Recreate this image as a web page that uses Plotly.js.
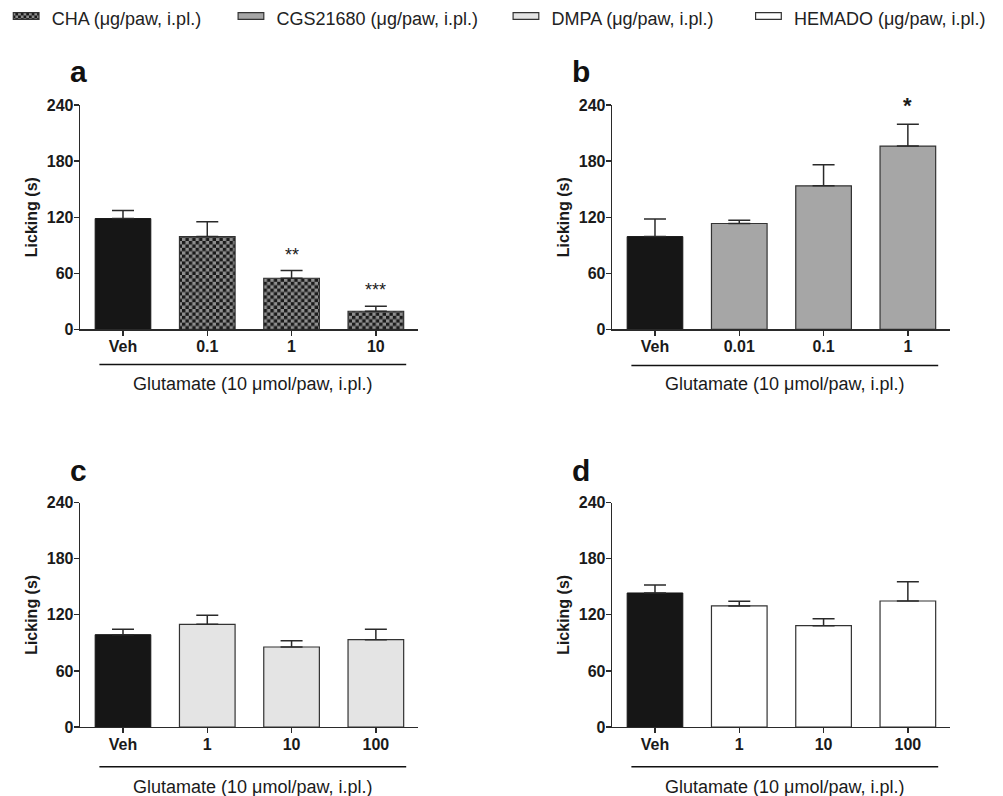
<!DOCTYPE html>
<html>
<head>
<meta charset="utf-8">
<script src="https://cdn.plot.ly/plotly-3.0.1.min.js"></script>
<style>html,body{margin:0;padding:0;background:#fff;}#chart{width:1003px;height:796px;}</style>
</head>
<body>
<div id="chart"></div>
<script>
// ---- data ----
const vehLabel = 'Veh';
const dosesA = ['0.1', '1', '10'];
const dosesB = ['0.01', '0.1', '1'];
const dosesC = ['1', '10', '100'];
const dosesD = ['1', '10', '100'];

const vehA = 118.5, vehErrA = 8.5;
const valsA = [99.2, 54.6, 19.3];
const errsA = [16.0, 8.2, 5.3];
const sigA = ['', '**', '***'];

const vehB = 99.2, vehErrB = 18.7;
const valsB = [113.2, 153.5, 196.0];
const errsB = [3.6, 22.5, 23.3];
const sigB = ['', '', '*'];

const vehC = 98.8, vehErrC = 5.7;
const valsC = [109.9, 85.6, 93.4];
const errsC = [9.6, 6.8, 11.1];

const vehD = 143.4, vehErrD = 8.5;
const valsD = [129.5, 108.4, 134.8];
const errsD = [5.0, 7.5, 20.7];

const yTicks = [0, 60, 120, 180, 240];
const seriesNames = ['CHA (μg/paw, i.pl.)', 'CGS21680 (μg/paw, i.pl.)', 'DMPA (μg/paw, i.pl.)', 'HEMADO (μg/paw, i.pl.)'];
const groupLabel = 'Glutamate (10 μmol/paw, i.pl.)';
const yTitle = 'Licking (s)';
const panelLetters = ['a', 'b', 'c', 'd'];

// ---- style ----
const FONT = 'Liberation Sans, Arial, Helvetica, sans-serif';
const AX = '#2a2a2a';
const W = 1003, H = 796;
const px = v => v / W;
const py = v => 1 - v / H;

const panels = [
  {doses: dosesA, veh: vehA, vehErr: vehErrA, vals: valsA, errs: errsA, sig: sigA, color: '#8f8f8f', pattern: '.', name: seriesNames[0], sigSize: 18, sigWeight: 'normal'},
  {doses: dosesB, veh: vehB, vehErr: vehErrB, vals: valsB, errs: errsB, sig: sigB, color: '#a6a6a6', pattern: '', name: seriesNames[1], sigSize: 22, sigWeight: 'bold'},
  {doses: dosesC, veh: vehC, vehErr: vehErrC, vals: valsC, errs: errsC, sig: null, color: '#e4e4e4', pattern: '', name: seriesNames[2]},
  {doses: dosesD, veh: vehD, vehErr: vehErrD, vals: valsD, errs: errsD, sig: null, color: '#ffffff', pattern: '', name: seriesNames[3]}
];

// pixel geometry of subplots
const xDomLeft = [px(80), px(418)];
const xDomRight = [px(612), px(950)];
const yDomTop = [py(329.3), py(105)];
const yDomBot = [py(727), py(502.7)];
const doms = [
  {x: xDomLeft, y: yDomTop}, {x: xDomRight, y: yDomTop},
  {x: xDomLeft, y: yDomBot}, {x: xDomRight, y: yDomBot}
];
const legendX = [px(11.7), px(236.5), px(511.5), px(754)];
const letterPos = [[78.5, 72], [581, 72], [78, 470.7], [580.5, 470.7]];
const groupLineY = [364.5, 365.5, 766.7, 766.7];
const groupTextY = [384, 384, 787, 787];

const traces = [];
const annotations = [];
const shapes = [];
const layout = {
  width: W, height: H,
  margin: {l: 0, r: 0, t: 0, b: 0},
  paper_bgcolor: '#fff', plot_bgcolor: 'rgba(0,0,0,0)',
  barmode: 'overlay', bargap: 0.34,
  font: {family: FONT, color: '#1a1a1a'},
  showlegend: true,
  annotations: annotations, shapes: shapes
};

panels.forEach((p, i) => {
  const n = i + 1;
  const xa = 'x' + (n === 1 ? '' : n), ya = 'y' + (n === 1 ? '' : n);
  const cats = [vehLabel].concat(p.doses);
  const errStyle = (arr) => ({type: 'data', symmetric: false, array: arr, arrayminus: arr.map(() => 0), color: AX, thickness: 1.5, width: 11});
  traces.push({
    type: 'bar', x: [vehLabel], y: [p.veh], xaxis: xa, yaxis: ya,
    marker: {color: '#161616', line: {color: '#161616', width: 1}},
    error_y: errStyle([p.vehErr]), showlegend: false
  });
  const lg = 'legend' + (n === 1 ? '' : n);
  traces.push({
    type: 'bar', x: p.doses, y: p.vals, xaxis: xa, yaxis: ya, name: p.name, legend: lg,
    marker: {color: p.color, line: {color: '#333', width: 1.2},
             pattern: p.pattern ? {shape: p.pattern, fgcolor: '#1a1a1a', bgcolor: p.color, size: 7, solidity: 0.5, fillmode: 'replace'} : undefined},
    error_y: errStyle(p.errs)
  });
  layout[lg] = {
    orientation: 'h', x: legendX[i], y: 1, xanchor: 'left', yanchor: 'top',
    font: {family: FONT, size: 18, color: '#222'}, bgcolor: 'rgba(0,0,0,0)'
  };
  layout['xaxis' + (n === 1 ? '' : n)] = {
    domain: doms[i].x, anchor: ya, type: 'category', categoryorder: 'array', categoryarray: cats,
    range: [-0.51, 3.5], showline: true, linecolor: AX, linewidth: 1.3,
    ticks: 'outside', ticklen: 5, tickwidth: 1.3, tickcolor: AX, showgrid: false, zeroline: false,
    tickfont: {family: FONT, size: 16, weight: 'bold', color: '#1a1a1a'}, ticklabelstandoff: -3
  };
  layout['yaxis' + (n === 1 ? '' : n)] = {
    domain: doms[i].y, anchor: xa, range: [0, 240], tickvals: yTicks,
    showline: true, linecolor: AX, linewidth: 1.3,
    ticks: 'outside', ticklen: 5, tickwidth: 1.3, tickcolor: AX, showgrid: false, zeroline: false,
    tickfont: {family: FONT, size: 16, weight: 'bold', color: '#1a1a1a'}, ticklabelstandoff: -3,
    title: {text: yTitle, font: {family: FONT, size: 16, weight: 'bold', color: '#1a1a1a'}, standoff: 5}
  };
  // panel letter
  annotations.push({text: panelLetters[i], xref: 'paper', yref: 'paper', x: px(letterPos[i][0]), y: py(letterPos[i][1]),
    xanchor: 'center', yanchor: 'middle', showarrow: false, font: {family: FONT, size: 30, weight: 'bold', color: '#111'}});
  // group line & label
  shapes.push({type: 'line', xref: xa, yref: 'paper', x0: -0.28, x1: 3.36, y0: py(groupLineY[i]), y1: py(groupLineY[i]),
    line: {color: '#111', width: 1.5}});
  annotations.push({text: groupLabel, xref: xa, yref: 'paper', x: 1.54, y: py(groupTextY[i]),
    xanchor: 'center', yanchor: 'middle', showarrow: false, font: {family: FONT, size: 18, color: '#1a1a1a'}});
  // significance marks (x given as category index)
  if (p.sig) {
    p.sig.forEach((s, k) => {
      if (!s) return;
      annotations.push({text: s, xref: xa, yref: ya, x: cats.indexOf(p.doses[k]), y: p.vals[k] + p.errs[k],
        xanchor: 'center', yanchor: 'bottom', yshift: 4, showarrow: false,
        font: {family: FONT, size: p.sigSize, weight: p.sigWeight, color: '#1a1a1a'}});
    });
  }
});

Plotly.newPlot('chart', traces, layout, {staticPlot: true}).then(gd => {
  const NS = 'http://www.w3.org/2000/svg';
  // turn the dot pattern into a checkerboard
  gd.querySelectorAll('pattern').forEach(pat => {
    const circ = pat.querySelector('circle');
    if (!circ) return;
    const s = 6.8, h = s / 2;
    pat.setAttribute('width', s); pat.setAttribute('height', s);
    const bg = pat.querySelector('rect');
    const bgFill = bg ? (bg.getAttribute('fill') || bg.style.fill) : '#8f8f8f';
    const fg = circ.getAttribute('fill') || circ.style.fill || '#1a1a1a';
    while (pat.firstChild) pat.removeChild(pat.firstChild);
    const mk = (x, y, w, hh, f) => { const r = document.createElementNS(NS, 'rect');
      r.setAttribute('x', x); r.setAttribute('y', y); r.setAttribute('width', w); r.setAttribute('height', hh);
      r.setAttribute('fill', f); pat.appendChild(r); };
    mk(0, 0, s, s, bgFill);
    mk(0, 0, h, h, fg);
    mk(h, h, h, h, fg);
  });
  // widen every key swatch into a flat rectangle like the original key
  gd.querySelectorAll('.legendpoints path').forEach(pth => {
    pth.setAttribute('d', 'M7.3,1.1H-18.4V-5.5H7.3Z');
  });
});
</script>
</body>
</html>
